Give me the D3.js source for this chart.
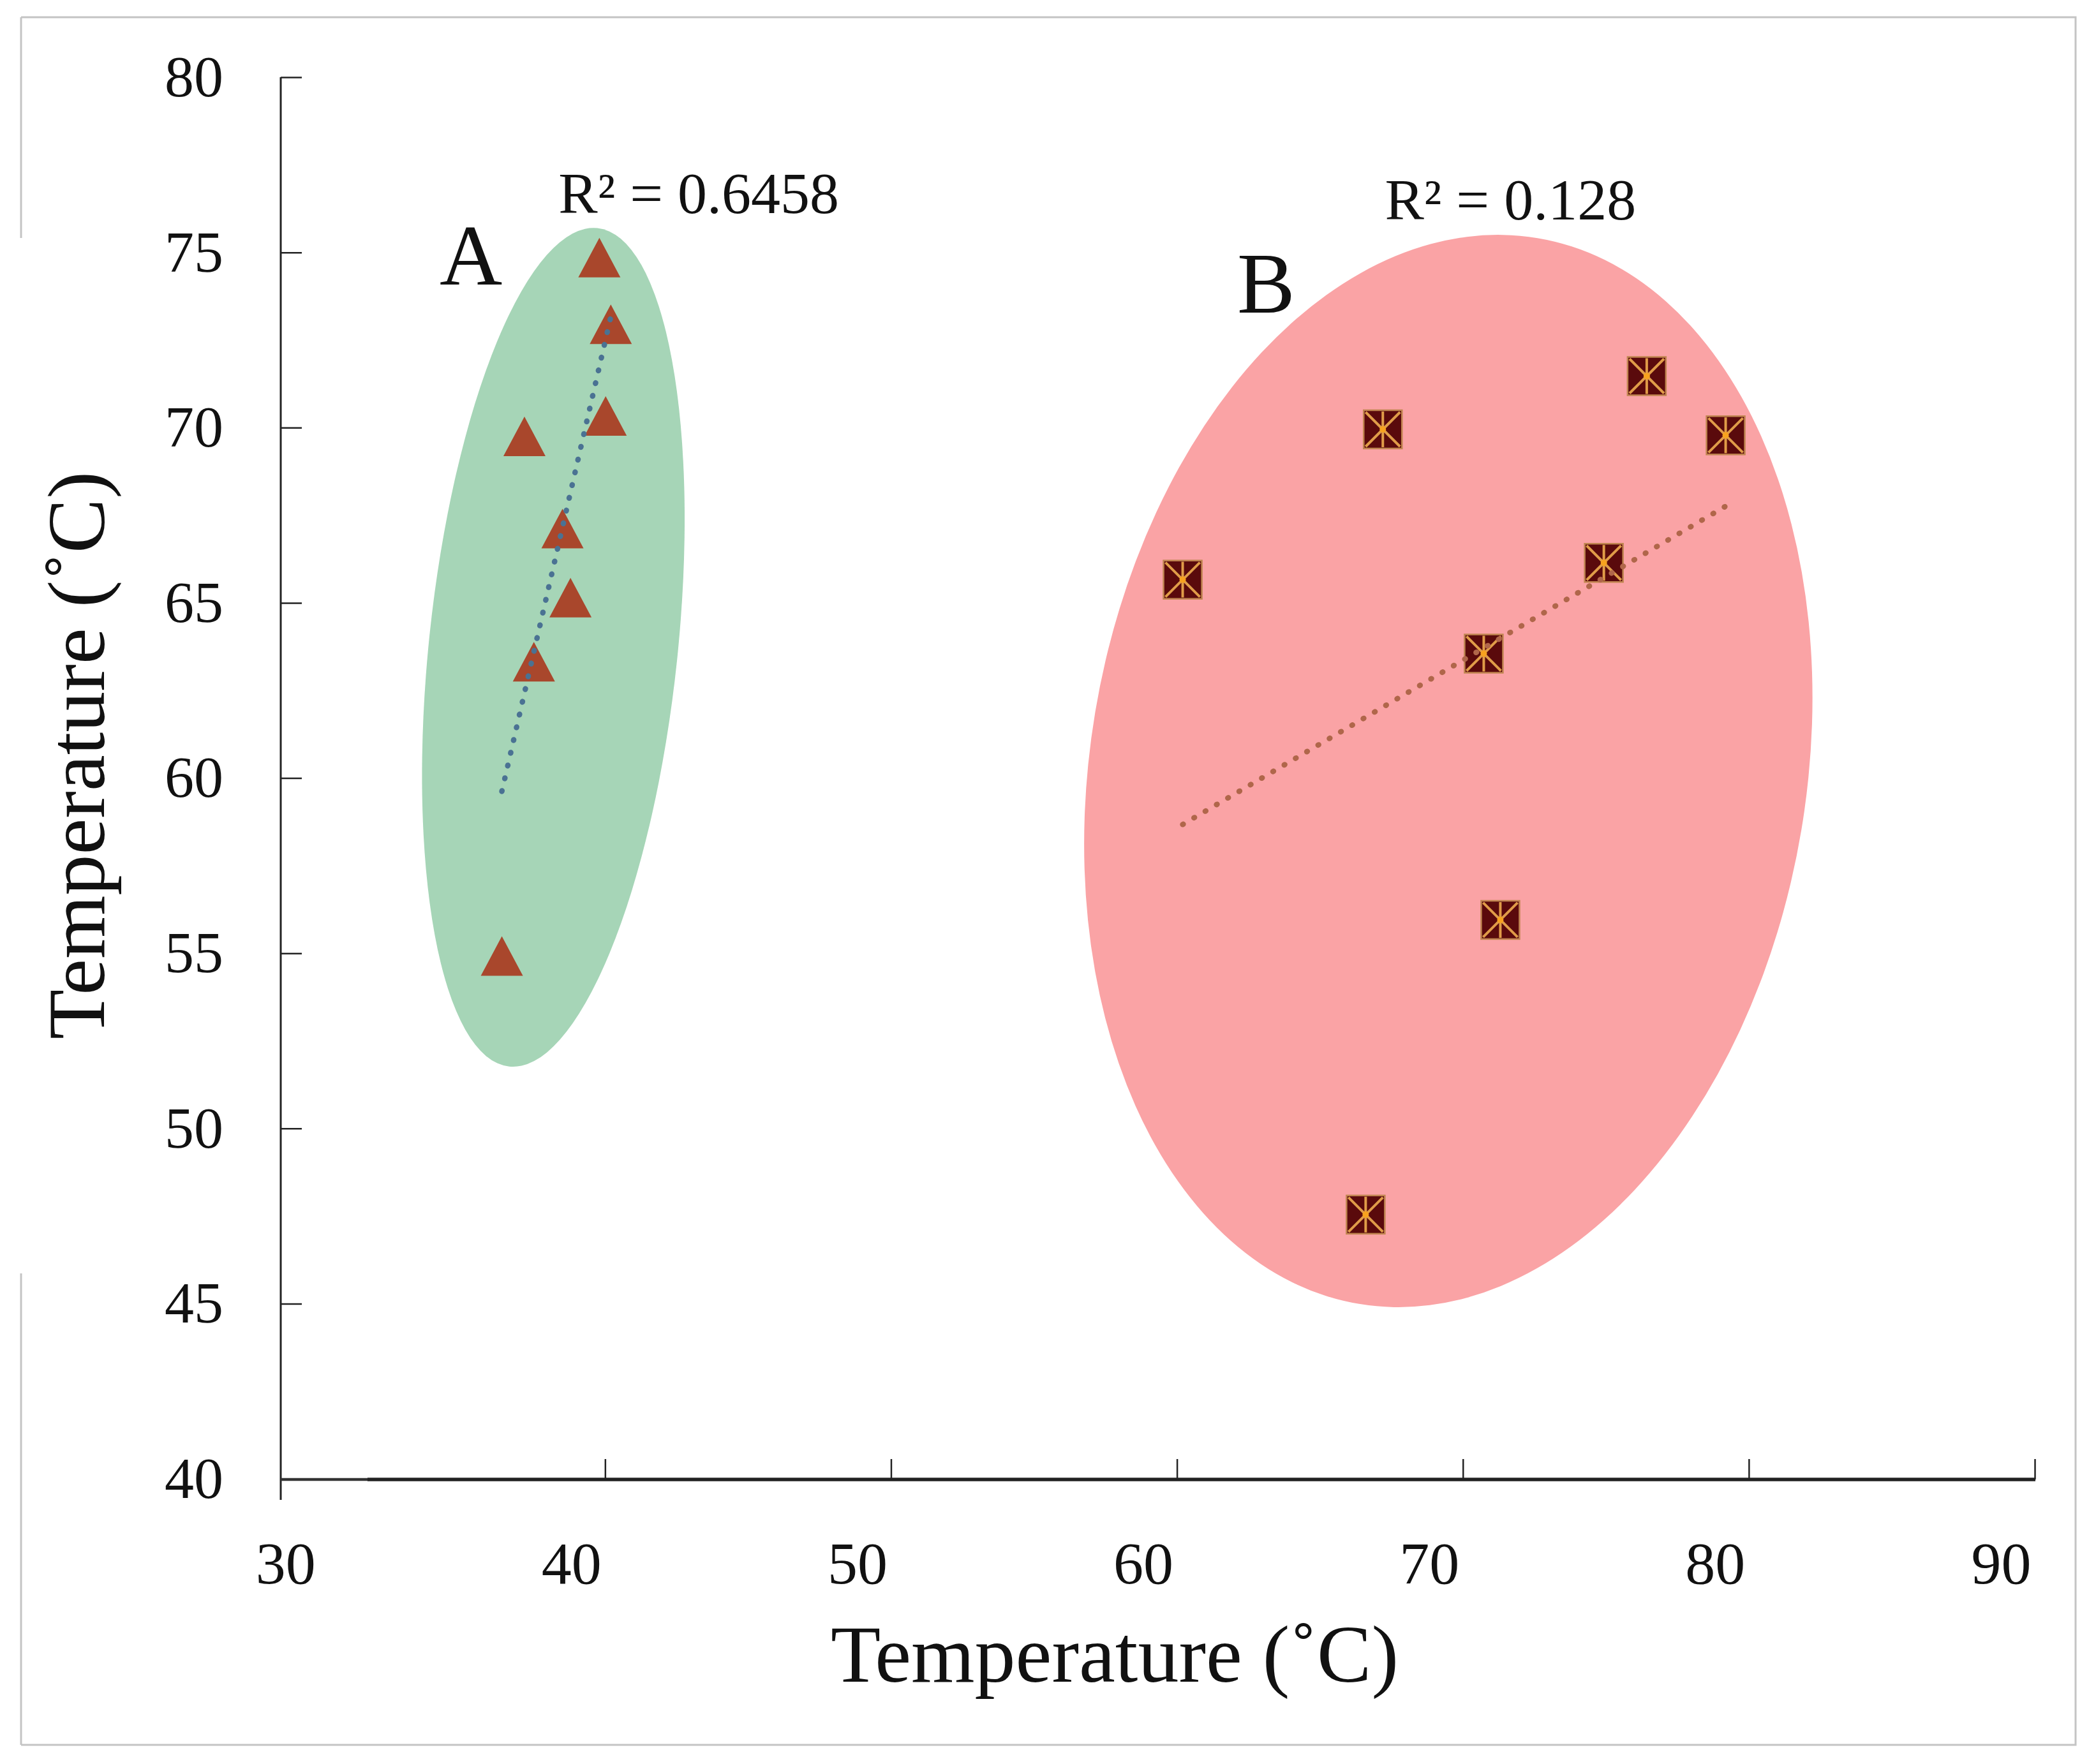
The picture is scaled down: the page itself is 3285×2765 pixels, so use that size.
<!DOCTYPE html>
<html><head><meta charset="utf-8">
<script src="https://cdn.jsdelivr.net/npm/d3@7"></script>
<style>
html,body{margin:0;padding:0;background:#fff;}
svg{display:block;}
</style>
</head><body>
<svg id="chart" width="3285" height="2765"></svg>
<script>
// ---- data ----
const xTicks = [30, 40, 50, 60, 70, 80, 90];
const yTicks = [40, 45, 50, 55, 60, 65, 70, 75, 80];
const groupAx = [39.80, 40.20, 40.02, 37.18, 38.51, 38.79, 37.51, 36.39];
const groupAy = [74.85, 72.95, 70.33, 69.75, 67.12, 65.15, 63.32, 54.92];
const groupBx = [60.20, 67.20, 76.43, 79.19, 74.93, 70.73, 71.31, 66.60];
const groupBy = [65.66, 69.95, 71.47, 69.78, 66.14, 63.55, 55.95, 47.54];
const groupNames = ["A", "B"];
const groupLabelX = [35.31, 63.12];
const groupLabelY = [74.08, 73.28];
const r2Texts = ["R\u00B2 = 0.6458", "R\u00B2 = 0.128"];
const r2X = [38.37, 67.27];
const r2Y = [76.12, 75.94];
const ellipseCx = [38.19, 69.49];
const ellipseCy = [63.73, 60.20];
const ellipseRx = [4.35, 12.52];   // x units
const ellipseRy = [12.03, 15.42];  // y units
const ellipseTilt = [6, 9.5];      // degrees
const axisTitle = "Temperature (\u02DAC)";

// ---- styles ----
const FONT = "'Liberation Serif','Times New Roman',serif";
const ellipseFill = ["#a6d5b7", "#faa3a5"];
const triColor = "#a9472c";
const sqFill = "#5a0a0c";
const sqLine = "#e09c48";
const trendColor = ["#4a7293", "#b0664a"];

const svg = d3.select("#chart");
svg.append("rect").attr("width", 3285).attr("height", 2765).attr("fill", "#fff");

// frame
const frame = svg.append("g").attr("stroke", "#c4c4c4").attr("stroke-width", 3).attr("fill", "none");
frame.append("path").attr("d", "M33,27H3253V2735H33");
frame.append("path").attr("d", "M33,27V373M33,1996V2735");

const x = d3.scaleLinear().domain([30, 90]).range([500.2, 3189]);
const y = d3.scaleLinear().domain([40, 80]).range([2318, 121]);

// ellipses
const ellipses = groupNames.map((n, i) => ({
  cx: ellipseCx[i], cy: ellipseCy[i], rx: ellipseRx[i], ry: ellipseRy[i], t: ellipseTilt[i], fill: ellipseFill[i]
}));
svg.append("g").selectAll("ellipse").data(ellipses).join("ellipse")
  .attr("cx", d => x(d.cx)).attr("cy", d => y(d.cy))
  .attr("rx", d => x(d.cx + d.rx) - x(d.cx))
  .attr("ry", d => y(d.cy) - y(d.cy + d.ry))
  .attr("transform", d => `rotate(${d.t},${x(d.cx)},${y(d.cy)})`)
  .attr("fill", d => d.fill);

// axes
const yAxis = d3.axisLeft(y).tickValues(yTicks).tickSizeInner(-33).tickSizeOuter(0)
  .tickPadding(90).tickFormat(d3.format("d"));
const gy = svg.append("g").attr("transform", "translate(440,0)").call(yAxis);
gy.select(".domain").remove();
gy.attr("font-family", FONT).attr("font-size", 92);
gy.selectAll(".tick line").attr("stroke", "#222").attr("stroke-width", 2.5);
gy.selectAll(".tick text").attr("fill", "#111");
svg.append("line").attr("x1", 440).attr("x2", 440).attr("y1", y(80)).attr("y2", y(40) + 33)
  .attr("stroke", "#222").attr("stroke-width", 3);

const xAxis = d3.axisBottom(x).tickValues(xTicks).tickSizeInner(-32).tickSizeOuter(0)
  .tickPadding(96).tickFormat(d3.format("d"));
const gx = svg.append("g").attr("transform", `translate(0,${y(40) + 1})`).call(xAxis);
gx.select(".domain").remove();
gx.attr("font-family", FONT).attr("font-size", 94);
gx.selectAll(".tick line").attr("stroke", "#222").attr("stroke-width", 2.5);
gx.selectAll(".tick").filter(d => d === 30).select("line").remove();
gx.selectAll(".tick text").attr("fill", "#111").attr("dx", -53);
svg.append("line").attr("x1", 440).attr("x2", 577).attr("y1", y(40) + 1).attr("y2", y(40) + 1)
  .attr("stroke", "#333").attr("stroke-width", 4.5);
svg.append("line").attr("x1", 576).attr("x2", x(90) + 1).attr("y1", y(40) + 1).attr("y2", y(40) + 1)
  .attr("stroke", "#222").attr("stroke-width", 5.5);

// markers A (triangles)
const ptsA = groupAx.map((v, i) => ({ x: v, y: groupAy[i] }));
const ptsB = groupBx.map((v, i) => ({ x: v, y: groupBy[i] }));
const tw = 66, th = 62;
svg.append("g").selectAll("path").data(ptsA).join("path")
  .attr("transform", d => `translate(${x(d.x)},${y(d.y)})`)
  .attr("d", `M0,${-th / 2}L${tw / 2},${th / 2}L${-tw / 2},${th / 2}Z`)
  .attr("fill", triColor);

// markers B (boxed stars)
const s = 60, h = s / 2;
const gB = svg.append("g").selectAll("g").data(ptsB).join("g")
  .attr("transform", d => `translate(${x(d.x)},${y(d.y)})`);
gB.append("rect").attr("x", -h).attr("y", -h).attr("width", s).attr("height", s)
  .attr("fill", sqFill).attr("stroke", "#c08550").attr("stroke-width", 2.5);
gB.append("path").attr("d", `M${-h + 3},${-h + 3}L${h - 3},${h - 3}M${h - 3},${-h + 3}L${-h + 3},${h - 3}M0,${-h + 2}V${h - 2}`)
  .attr("stroke", sqLine).attr("stroke-width", 4).attr("fill", "none");
gB.append("circle").attr("r", 5).attr("fill", "#f7a21f");

// trendlines (least squares)
function fit(pts) {
  const mx = d3.mean(pts, p => p.x), my = d3.mean(pts, p => p.y);
  let sxy = 0, sxx = 0;
  pts.forEach(p => { sxy += (p.x - mx) * (p.y - my); sxx += (p.x - mx) ** 2; });
  const b = sxy / sxx, a = my - b * mx;
  const [x0, x1] = d3.extent(pts, p => p.x);
  return [{ x: x0, y: a + b * x0 }, { x: x1, y: a + b * x1 }];
}
const line = d3.line().x(d => x(d.x)).y(d => y(d.y));
[ptsA, ptsB].forEach((pts, i) => {
  svg.append("path").attr("d", line(fit(pts)))
    .attr("fill", "none").attr("stroke", trendColor[i])
    .attr("stroke-width", 8.5).attr("stroke-linecap", "round")
    .attr("stroke-dasharray", "1 19.5");
});

// annotations
const ann = svg.append("g").attr("font-family", FONT).attr("fill", "#111");
groupNames.forEach((n, i) => {
  ann.append("text").attr("x", x(groupLabelX[i])).attr("y", y(groupLabelY[i]))
    .attr("text-anchor", "middle").attr("font-size", 136).text(n);
  ann.append("text").attr("x", x(r2X[i])).attr("y", y(r2Y[i]))
    .attr("font-size", 92).text(r2Texts[i]);
});

// axis titles
ann.append("text").attr("x", 1747).attr("y", 2636).attr("text-anchor", "middle")
  .attr("font-size", 128).text(axisTitle);
ann.append("text").attr("transform", "translate(163,1184) rotate(-90)").attr("text-anchor", "middle")
  .attr("font-size", 128).text(axisTitle);
</script>
</body></html>
